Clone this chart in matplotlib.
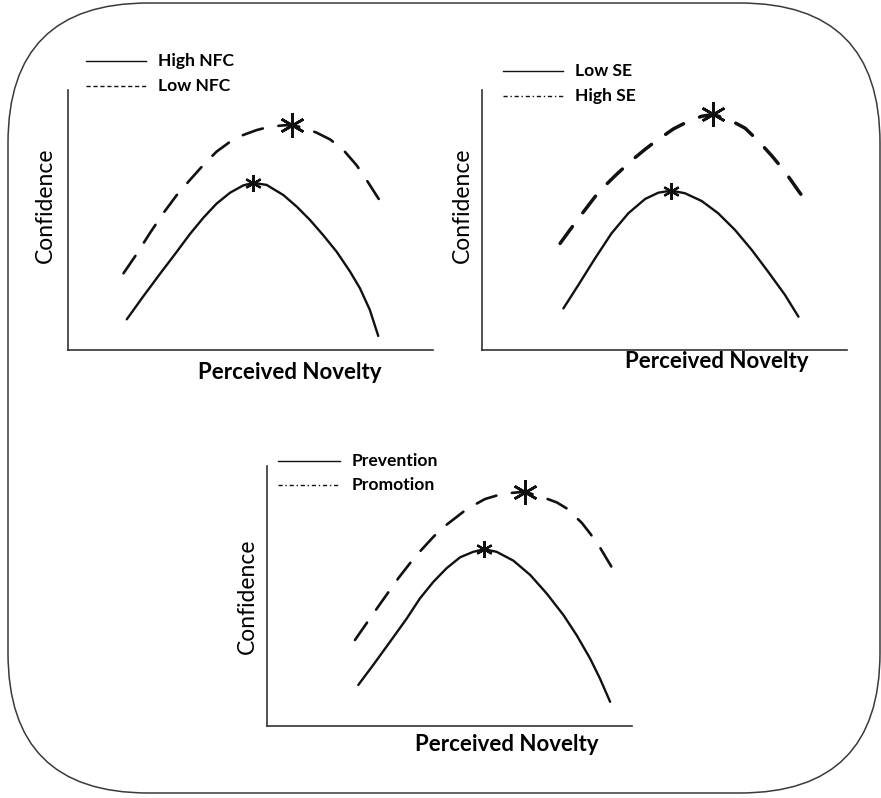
import matplotlib
matplotlib.use("Agg")
import matplotlib.pyplot as plt
from matplotlib.patches import FancyBboxPatch

plt.rcParams["font.family"] = ["Lato", "DejaVu Sans"]

# curve points, x = perceived novelty, y = confidence (0-100)
p1_solid_x = [16.1, 20.6, 25.2, 29.8, 33.4, 37.1, 40.7, 44.4, 48.0, 50.8, 54.4, 59.0, 62.7, 66.3, 69.9, 73.6, 77.3, 80.0, 82.7, 85.0]
p1_solid_y = [11.8, 20.6, 29.3, 37.8, 44.6, 50.9, 56.3, 60.5, 63.3, 64.3, 63.5, 59.6, 55.1, 50.0, 44.2, 37.8, 30.1, 23.7, 15.4, 5.4]
p1_dash_x = [15.2, 18.8, 22.5, 26.1, 29.8, 33.4, 37.1, 40.7, 44.4, 48.0, 51.7, 55.3, 59.0, 61.3, 64.5, 68.1, 71.8, 75.4, 79.1, 81.8, 85.9]
p1_dash_y = [29.5, 36.9, 45.1, 52.6, 59.6, 65.4, 71.2, 76.3, 80.1, 82.7, 84.6, 85.9, 86.4, 86.5, 85.5, 83.6, 81.0, 77.0, 71.0, 65.4, 56.4]

p2_solid_x = [22.3, 26.4, 31.0, 35.5, 40.1, 44.7, 48.3, 51.8, 55.6, 60.2, 64.7, 69.3, 73.9, 78.4, 83.0, 86.7]
p2_solid_y = [16.0, 25.0, 35.3, 44.9, 52.6, 58.1, 60.5, 61.3, 60.3, 57.3, 52.6, 46.2, 38.5, 30.1, 21.2, 12.8]
p2_dash_x = [21.4, 24.1, 26.8, 31.0, 33.7, 36.9, 41.5, 44.7, 47.4, 52.4, 57.0, 60.2, 63.4, 68.4, 72.1, 75.7, 79.4, 83.0, 86.7, 89.9]
p2_dash_y = [41.0, 46.2, 51.3, 59.0, 63.2, 67.6, 73.5, 77.2, 80.1, 85.0, 88.3, 89.9, 90.6, 88.1, 85.3, 80.4, 74.7, 68.6, 61.2, 55.1]

p3_solid_x = [25.0, 29.1, 33.7, 38.3, 41.9, 45.6, 49.2, 52.9, 56.5, 59.5, 62.9, 67.5, 72.1, 76.6, 81.2, 84.8, 88.5, 91.2, 94.0]
p3_solid_y = [15.8, 23.5, 32.4, 41.4, 49.1, 55.5, 60.7, 64.9, 67.0, 68.0, 67.0, 63.6, 58.1, 51.0, 42.7, 35.0, 26.0, 18.3, 9.3]
p3_dash_x = [24.1, 28.2, 31.0, 36.0, 40.5, 45.6, 48.8, 54.7, 59.7, 64.7, 70.7, 77.1, 79.4, 82.1, 86.2, 88.5, 91.2, 94.9]
p3_dash_y = [33.1, 41.4, 47.0, 56.9, 65.0, 72.8, 77.0, 83.4, 87.3, 89.4, 90.1, 87.2, 86.0, 83.7, 78.2, 74.1, 68.7, 60.0]

# peaks marked with a star (solid, dashed)
p1_peaks = [(50.8, 64.3), (61.3, 86.5)]
p2_peaks = [(51.8, 61.3), (63.4, 90.6)]
p3_peaks = [(59.5, 68.0), (70.7, 90.1)]

p1_labels = ["High NFC", "Low NFC"]
p2_labels = ["Low SE", "High SE"]
p3_labels = ["Prevention", "Promotion"]

x_label = "Perceived Novelty"
y_label = "Confidence"

fig = plt.figure(figsize=(8.81, 7.98), dpi=100)

# rounded frame around everything, drawn in pixel units
bg = fig.add_axes([0, 0, 1, 1])
bg.set_xlim(0, 881)
bg.set_ylim(798, 0)
bg.axis("off")
bg.add_patch(FancyBboxPatch((8, 3), 872, 790, boxstyle="round,pad=0,rounding_size=140",
                            fill=False, edgecolor="#3a3a3a", linewidth=1.1))

panels = [
    dict(pos=[0.0772, 0.5614, 0.4143, 0.3258],
         solid=(p1_solid_x, p1_solid_y), dash=(p1_dash_x, p1_dash_y), peaks=p1_peaks,
         labels=p1_labels, leg_style=(0, (3, 2)), leg=(0.049, 0.214, 0.247, 1.112, 1.015),
         dash_lw=1.9, dash_style=(0, (8, 6)),
         xl=(0.608, -0.085), yl=(-0.063, 0.558)),
    dict(pos=[0.5471, 0.5614, 0.4143, 0.3258],
         solid=(p2_solid_x, p2_solid_y), dash=(p2_dash_x, p2_dash_y), peaks=p2_peaks,
         labels=p2_labels, leg_style=(0, (3, 2, 1, 2)), leg=(0.058, 0.222, 0.255, 1.073, 0.977),
         dash_lw=2.5, dash_style=(0, (6, 5)),
         xl=(0.644, -0.046), yl=(-0.055, 0.558)),
    dict(pos=[0.3031, 0.0902, 0.4143, 0.3258],
         solid=(p3_solid_x, p3_solid_y), dash=(p3_dash_x, p3_dash_y), peaks=p3_peaks,
         labels=p3_labels, leg_style=(0, (3, 2, 1, 2)), leg=(0.030, 0.200, 0.233, 1.019, 0.927),
         dash_lw=1.9, dash_style=(0, (8, 6)),
         xl=(0.658, -0.073), yl=(-0.055, 0.50)),
]

for p in panels:
    ax = fig.add_axes(p["pos"])
    ax.set_xlim(0, 100)
    ax.set_ylim(0, 100)
    ax.patch.set_alpha(0)
    for side in ["top", "right"]:
        ax.spines[side].set_visible(False)
    for side in ["left", "bottom"]:
        ax.spines[side].set_color("#333333")
        ax.spines[side].set_linewidth(1.2)
    ax.set_xticks([])
    ax.set_yticks([])

    ax.plot(*p["solid"], color="#111111", linewidth=1.7, solid_capstyle="round",
            solid_joinstyle="round")
    ax.plot(*p["dash"], color="#111111", linewidth=p["dash_lw"], linestyle=p["dash_style"],
            dash_capstyle="round", dash_joinstyle="round")

    (sx, sy), (dx, dy) = p["peaks"]
    ax.plot(sx, sy, marker=(6, 2, 0), markersize=12, color="#111111", markeredgewidth=1.6)
    ax.plot(dx, dy, marker=(6, 2, 0), markersize=18, color="#111111", markeredgewidth=1.9)

    # legend samples
    x0, x1, xt, r1, r2 = p["leg"]
    ax.plot([x0, x1], [r1, r1], transform=ax.transAxes, clip_on=False,
            color="#111111", linewidth=1.0)
    ax.plot([x0, x1], [r2, r2], transform=ax.transAxes, clip_on=False,
            color="#111111", linewidth=1.0, linestyle=p["leg_style"])
    ax.text(xt, r1, p["labels"][0], transform=ax.transAxes, fontsize=12.6,
            fontweight="bold", va="center", ha="left")
    ax.text(xt, r2, p["labels"][1], transform=ax.transAxes, fontsize=12.6,
            fontweight="bold", va="center", ha="left")

    ax.text(p["xl"][0], p["xl"][1], x_label, transform=ax.transAxes, fontsize=16,
            fontweight="bold", ha="center", va="center")
    ax.text(p["yl"][0], p["yl"][1], y_label, transform=ax.transAxes, fontsize=16.5,
            rotation=90, ha="center", va="center")

fig.savefig("out.png", dpi=100)
